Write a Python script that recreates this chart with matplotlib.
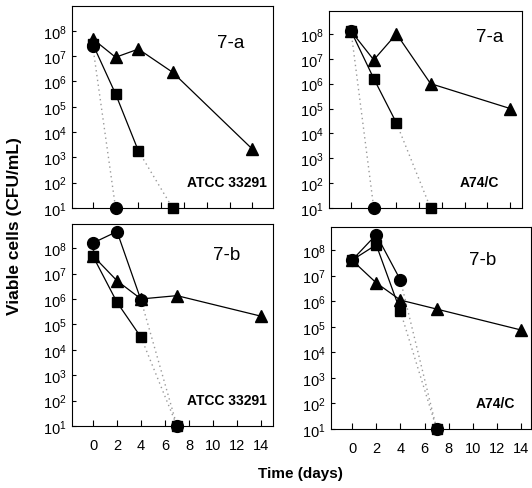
import matplotlib
matplotlib.use("Agg")
import matplotlib.pyplot as plt
from matplotlib.ticker import FixedLocator, LogFormatterSciNotation, NullLocator

plt.rcParams['font.family'] = ['Liberation Sans', 'DejaVu Sans']
plt.rcParams['mathtext.fontset'] = 'custom'
plt.rcParams['mathtext.rm'] = 'Liberation Sans'
plt.rcParams['mathtext.it'] = 'Liberation Sans:italic'
plt.rcParams['mathtext.bf'] = 'Liberation Sans:bold'

DETECTION = 10

# ---- data (days, CFU/mL) ----
# 7-a ATCC 33291
tl_tri_days = [0, 2, 4, 7, 14]
tl_tri_cfu = [4.8e7, 9e6, 1.9e7, 2.3e6, 2.1e3]
tl_sq_days = [0, 2, 4, 7]
tl_sq_cfu = [3e7, 3.2e5, 1.8e3, 10]
tl_ci_days = [0, 2]
tl_ci_cfu = [2.5e7, 10]

# 7-a A74/C
tr_tri_days = [0, 2, 4, 7, 14]
tr_tri_cfu = [1.3e8, 9e6, 1e8, 1e6, 1e5]
tr_sq_days = [0, 2, 4, 7]
tr_sq_cfu = [1.3e8, 1.6e6, 2.6e4, 10]
tr_ci_days = [0, 2]
tr_ci_cfu = [1.3e8, 10]

# 7-b ATCC 33291
bl_tri_days = [0, 2, 4, 7, 14]
bl_tri_cfu = [5e7, 5.2e6, 1e6, 1.35e6, 2.1e5]
bl_sq_days = [0, 2, 4, 7]
bl_sq_cfu = [4.8e7, 7.4e5, 3.1e4, 10]
bl_ci_days = [0, 2, 4, 7]
bl_ci_cfu = [1.6e8, 4.5e8, 9e5, 10]

# 7-b A74/C
br_tri_days = [0, 2, 4, 7, 14]
br_tri_cfu = [4e7, 5.2e6, 1.1e6, 4.9e5, 7.4e4]
br_sq_days = [0, 2, 4, 7]
br_sq_cfu = [4e7, 1.6e8, 4e5, 10]
br_ci_days = [0, 2, 4, 7]
br_ci_cfu = [4e7, 4e8, 6.7e6, 10]

x_ticks = [0, 2, 4, 6, 8, 10, 12, 14]
y_ticks = [1e1, 1e2, 1e3, 1e4, 1e5, 1e6, 1e7, 1e8]

panel_ids = ['7-a', '7-a', '7-b', '7-b']
strains = ['ATCC 33291', 'A74/C', 'ATCC 33291', 'A74/C']

W, H = 532, 489
fig = plt.figure(figsize=(W / 100, H / 100), dpi=100)


def px_axes(left, right, top, bottom):
    return fig.add_axes([left / W, 1 - bottom / H, (right - left) / W, (bottom - top) / H])


panels = [
    dict(box=(72, 273, 7, 209), xlim=(-1.82, 15.8), ytop=10 ** 8.98, xlab=False,
         series=[(tl_tri_days, tl_tri_cfu, '^'), (tl_sq_days, tl_sq_cfu, 's'), (tl_ci_days, tl_ci_cfu, 'o')],
         idpos=(0.79, 0.82), strpos=(0.97, 0.13)),
    dict(box=(329, 522, 12, 209), xlim=(-1.94, 15.05), ytop=10 ** 8.92, xlab=False,
         series=[(tr_tri_days, tr_tri_cfu, '^'), (tr_sq_days, tr_sq_cfu, 's'), (tr_ci_days, tr_ci_cfu, 'o')],
         idpos=(0.83, 0.87), strpos=(0.88, 0.13)),
    dict(box=(72, 273, 225, 427), xlim=(-1.75, 15.0), ytop=10 ** 8.95, xlab=True,
         series=[(bl_tri_days, bl_tri_cfu, '^'), (bl_sq_days, bl_sq_cfu, 's'), (bl_ci_days, bl_ci_cfu, 'o')],
         idpos=(0.77, 0.85), strpos=(0.97, 0.13)),
    dict(box=(331, 531, 228, 430), xlim=(-1.74, 14.8), ytop=10 ** 8.9, xlab=True,
         series=[(br_tri_days, br_tri_cfu, '^'), (br_sq_days, br_sq_cfu, 's'), (br_ci_days, br_ci_cfu, 'o')],
         idpos=(0.76, 0.84), strpos=(0.92, 0.13)),
]

msize = {'o': 8.5, 's': 7.5, '^': 8.5}

for i, p in enumerate(panels):
    ax = px_axes(*p['box'])
    ax.set_yscale('log')
    ax.set_xlim(*p['xlim'])
    ax.set_ylim(DETECTION, p['ytop'])
    for days, cfu, mk in p['series']:
        if cfu[-1] == DETECTION:
            solid_d, solid_c = days[:-1], cfu[:-1]
            ax.plot(days[-2:], cfu[-2:], linestyle=(0, (1, 2.5)), color='#999999', lw=1.0, zorder=2)
        else:
            solid_d, solid_c = days, cfu
        ax.plot(solid_d, solid_c, '-', color='black', lw=0.9, zorder=3)
        ax.plot(days, cfu, linestyle='none', marker=mk, color='black', ms=msize[mk],
                clip_on=False, zorder=4)
    ax.xaxis.set_major_locator(FixedLocator(x_ticks))
    ax.yaxis.set_major_locator(FixedLocator(y_ticks))
    ax.yaxis.set_minor_locator(NullLocator())
    ax.yaxis.set_major_formatter(LogFormatterSciNotation())
    ax.tick_params(axis='x', direction='in', length=4, width=0.8, labelsize=10.5, pad=9,
                   labelbottom=p['xlab'])
    ax.tick_params(axis='y', direction='in', length=3, width=0.8, labelsize=10.5, pad=4)
    for s in ax.spines.values():
        s.set_linewidth(0.8)
    ax.text(p['idpos'][0], p['idpos'][1], panel_ids[i], transform=ax.transAxes,
            ha='center', va='center', fontsize=13.5)
    ax.text(p['strpos'][0], p['strpos'][1], strains[i], transform=ax.transAxes,
            ha='right', va='center', fontsize=10, fontweight='bold')

fig.text(15 / W, 1 - 226 / H, 'Viable cells (CFU/mL)', rotation=90, ha='center', va='center',
         fontsize=12.5, fontweight='bold')
fig.text(300 / W, 1 - 474 / H, 'Time (days)', ha='center', va='center',
         fontsize=11, fontweight='bold')

fig.savefig('out.png', dpi=100)
